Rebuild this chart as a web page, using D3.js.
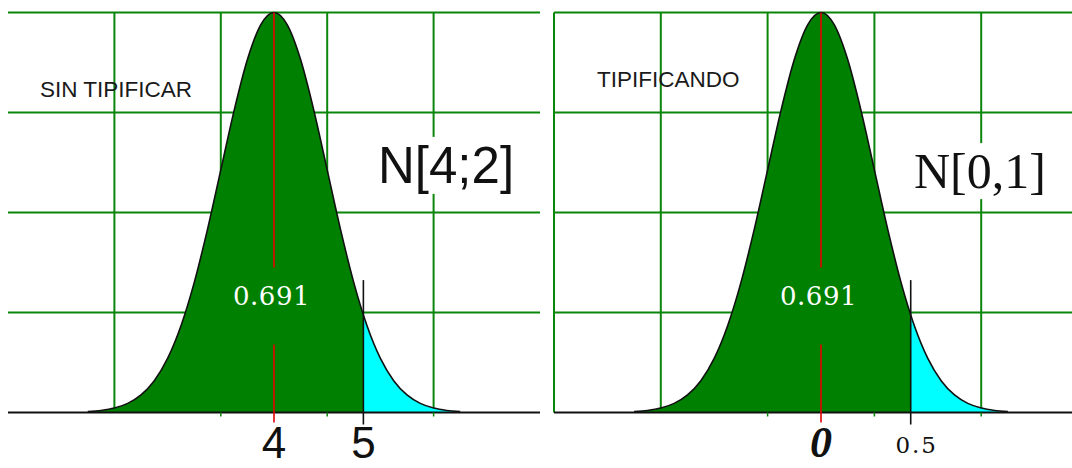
<!DOCTYPE html>
<html><head><meta charset="utf-8">
<script src="https://cdn.jsdelivr.net/npm/d3@7/dist/d3.min.js"></script>
<style>body{margin:0;background:#fff}svg{display:block}</style>
</head><body>
<svg id="c" width="1072" height="468"></svg>
<script>
// ---- data (curve in standard-deviation units, height relative to the peak) ----
const curveZ = [-3.5,-3.25,-3,-2.75,-2.5,-2.25,-2,-1.75,-1.5,-1.25,-1,-0.75,-0.5,-0.25,0,
                0.25,0.5,0.75,1,1.25,1.5,1.75,2,2.25,2.5,2.75,3,3.25,3.5];
const curveDensity = [0.0022,0.0051,0.0111,0.0228,0.0439,0.0796,0.1353,0.2163,0.3247,0.4578,0.6065,0.7548,0.8825,0.9692,1,
                      0.9692,0.8825,0.7548,0.6065,0.4578,0.3247,0.2163,0.1353,0.0796,0.0439,0.0228,0.0111,0.0051,0.0022];
const gridZ = [-3,-1,1,3];
const gridDensity = [0.25,0.5,0.75,1];
const belowTickZ = [-1,1,3];
const meanZ = 0;
const cutZ = 1.68;
const areaLabel = "0.691";
const meanLineSegments = [[1,0.3625],[0.17,0]];
const cutLineTop = 0.331;
const panelTitles = ["SIN TIPIFICAR","TIPIFICANDO"];
const titlePositions = [[-4.40,0.79],[-4.195,0.814]];
const distLabels = ["N[4;2]","N[0,1]"];
const distPositions = [[1.955,0.574],[1.742,0.561]];
const meanTickLabels = ["4","0"];
const cutTickLabels = ["5","0.5"];

const svg = d3.select("#c");
const W = 1072, H = 468;
svg.append("rect").attr("width",W).attr("height",H).attr("fill","#fff");

const y = d3.scaleLinear().domain([0,1]).range([412.5,12.5]);
const panelRanges = [[8,540],[554,1088]];
const GRID = "#0a860a", FILL = "#008000", CYAN = "#00ffff", RED = "#e60000";

panelRanges.forEach((rng, i) => {
  const x = d3.scaleLinear().domain([-5,5]).range(rng);
  const g = svg.append("g");
  const pts = curveZ.map((z,k)=>({z, d: curveDensity[k]}));

  // grid
  g.selectAll(".h").data(gridDensity).join("line")
    .attr("x1", x(-5)).attr("x2", x(5)).attr("y1", d=>y(d)).attr("y2", d=>y(d))
    .attr("stroke", GRID).attr("stroke-width", 2);
  g.selectAll(".v").data(gridZ).join("line")
    .attr("x1", d=>x(d)).attr("x2", d=>x(d)).attr("y1", y(0)).attr("y2", y(1))
    .attr("stroke", GRID).attr("stroke-width", 2);
  if (i === 1) {
    g.append("line").attr("x1", x(-5)).attr("x2", x(-5)).attr("y1", y(0)).attr("y2", y(1))
      .attr("stroke", GRID).attr("stroke-width", 2);
  }

  // areas
  const area = d3.area().x(p=>x(p.z)).y0(y(0)).y1(p=>y(p.d)).curve(d3.curveMonotoneX);
  const cx = x(cutZ);
  const defs = svg.append("defs");
  defs.append("clipPath").attr("id","cl"+i).append("rect")
    .attr("x", rng[0]).attr("y",0).attr("width", cx-rng[0]).attr("height", H);
  defs.append("clipPath").attr("id","cr"+i).append("rect")
    .attr("x", cx).attr("y",0).attr("width", rng[1]-cx).attr("height", H);
  g.append("path").attr("d", area(pts)).attr("fill", FILL).attr("clip-path","url(#cl"+i+")");
  g.append("path").attr("d", area(pts)).attr("fill", CYAN).attr("clip-path","url(#cr"+i+")");

  // outline
  const line = d3.line().x(p=>x(p.z)).y(p=>y(p.d)).curve(d3.curveMonotoneX);
  g.append("path").attr("d", line(pts)).attr("fill","none").attr("stroke","#111").attr("stroke-width",1.6);
  g.append("line").attr("x1", x(-5)).attr("x2", x(5)).attr("y1", y(0)).attr("y2", y(0))
    .attr("stroke","#111").attr("stroke-width",1.8);

  // ticks below baseline
  g.selectAll(".bt").data(belowTickZ).join("line")
    .attr("x1", d=>x(d)).attr("x2", d=>x(d)).attr("y1", y(0)).attr("y2", y(0)+4)
    .attr("stroke", GRID).attr("stroke-width", 1.5);

  // mean line
  meanLineSegments.forEach(([a,b]) => {
    g.append("line").attr("x1", x(meanZ)).attr("x2", x(meanZ))
      .attr("y1", y(a)).attr("y2", y(b) + (b===0 ? 10 : 0))
      .attr("stroke", RED).attr("stroke-width", 1.6);
  });
  // cut line
  g.append("line").attr("x1", cx).attr("x2", cx).attr("y1", y(cutLineTop)).attr("y2", y(0)+12)
    .attr("stroke","#111").attr("stroke-width",1.6);

  // texts
  g.append("text").attr("x", x(titlePositions[i][0])).attr("y", y(titlePositions[i][1]))
    .attr("font-family","Liberation Sans, Arial, sans-serif").attr("font-size",22.5)
    .attr("fill","#1a1a1a").text(panelTitles[i]);

  const dt = g.append("text").attr("x", x(distPositions[i][0])).attr("y", y(distPositions[i][1]))
    .attr("font-family", i===0 ? "Liberation Sans, Arial, sans-serif" : "Liberation Serif, Times New Roman, serif")
    .attr("font-size", i===0 ? 51 : 50).attr("fill","#111").text(distLabels[i]);
  const bb = dt.node().getBBox();
  g.insert("rect", function(){ return dt.node(); })
    .attr("x", bb.x).attr("y", bb.y).attr("width", bb.width).attr("height", bb.height).attr("fill","#fff");

  g.append("text").attr("x", x(meanZ) - 2.5).attr("y", 305)
    .attr("text-anchor","middle").attr("font-family","DejaVu Serif, serif").attr("font-size",26)
    .attr("letter-spacing",0.5).attr("fill","#fff").text(areaLabel);

  if (i === 0) {
    g.append("text").attr("x", x(meanZ)).attr("y", 458).attr("text-anchor","middle")
      .attr("font-family","Liberation Sans, Arial, sans-serif").attr("font-size",44).attr("fill","#111")
      .text(meanTickLabels[i]);
    g.append("text").attr("x", cx).attr("y", 458).attr("text-anchor","middle")
      .attr("font-family","Liberation Sans, Arial, sans-serif").attr("font-size",44).attr("fill","#111")
      .text(cutTickLabels[i]);
  } else {
    g.append("text").attr("x", x(meanZ)).attr("y", 457).attr("text-anchor","middle")
      .attr("font-family","Liberation Serif, Times New Roman, serif").attr("font-style","italic")
      .attr("font-weight","bold").attr("font-size",44).attr("fill","#111")
      .text(meanTickLabels[i]);
    g.append("text").attr("x", cx + 6).attr("y", 453).attr("text-anchor","middle")
      .attr("font-family","DejaVu Serif, serif").attr("font-size",23).attr("letter-spacing",2)
      .attr("fill","#111").text(cutTickLabels[i]);
  }
});
</script>
</body></html>
